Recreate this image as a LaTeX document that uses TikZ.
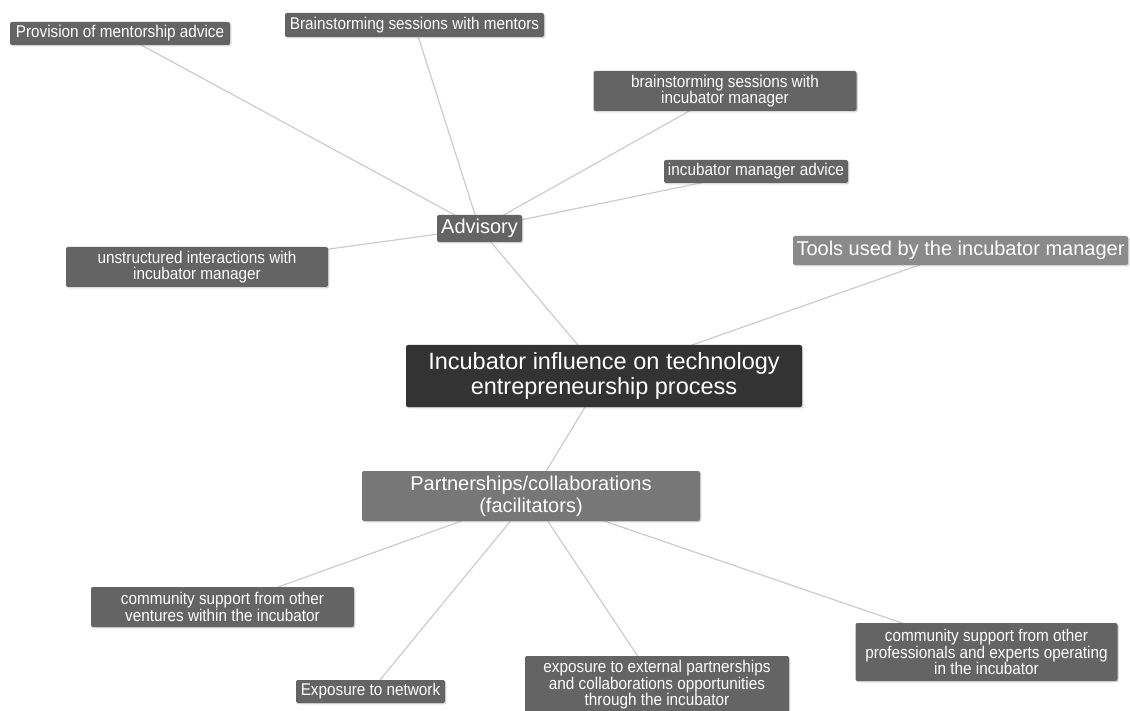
\documentclass[tikz,border=0pt]{standalone}
\usepackage{fontspec}
\setmainfont{Liberation Sans}
\newfontfamily\narrowfont{Liberation Sans}[FakeStretch=0.9]
\usetikzlibrary{shadows,backgrounds}
\definecolor{nodegray}{HTML}{646464}
\definecolor{midgray}{HTML}{777777}
\definecolor{lightgray2}{HTML}{8A8A8A}
\definecolor{darkgray2}{HTML}{333333}
\definecolor{linegray}{HTML}{CCCCCC}
\begin{document}
\begin{tikzpicture}[x=1pt,y=-1pt,
  base/.style={rounded corners=2pt, text=white, align=center, inner sep=0pt,
    drop shadow={shadow xshift=1.3pt, shadow yshift=-1.3pt, opacity=0.3}},
  small/.style={base, fill=nodegray, font=\narrowfont\fontsize{17}{16.5}\selectfont},
  big/.style={base, font=\fontsize{20}{22}\selectfont},
  link/.style={draw=linegray, line width=1.2pt}]
\useasboundingbox (0,0) rectangle (1130,711);
\clip (0,0) rectangle (1130,711);

\node[small, minimum width=220pt, minimum height=23pt] (prov) at (120,33.5) {Provision of mentorship advice};
\node[small, minimum width=259pt, minimum height=24pt] (bmen) at (414.5,25) {Brainstorming sessions with mentors};
\node[small, minimum width=263pt, minimum height=40pt] (bman) at (725,91) {brainstorming sessions with\\incubator manager};
\node[small, minimum width=184pt, minimum height=23pt] (iadv) at (756,171.5) {incubator manager advice};
\node[big, fill=nodegray, minimum width=85pt, minimum height=27pt] (adv) at (479.5,228.5) {Advisory};
\node[small, minimum width=262pt, minimum height=40pt] (unst) at (197,267) {unstructured interactions with\\incubator manager};
\node[big, fill=lightgray2, minimum width=335pt, minimum height=29pt] (tools) at (960.5,250.5) {Tools used by the incubator manager};
\node[base, fill=darkgray2, font=\fontsize{23.5}{25}\selectfont, minimum width=396pt, minimum height=62pt] (central) at (604,376) {Incubator influence on technology\\entrepreneurship process};
\node[big, fill=midgray, minimum width=338pt, minimum height=50pt] (part) at (531,496) {Partnerships/collaborations\\(facilitators)};
\node[small, minimum width=263pt, minimum height=40pt] (cven) at (222.5,607) {community support from other\\ventures within the incubator};
\node[small, minimum width=149pt, minimum height=23pt] (expn) at (370.5,691.5) {Exposure to network};
\node[small, minimum width=264pt, minimum height=58pt] (ext) at (657,685) {exposure to external partnerships\\and collaborations opportunities\\through the incubator};
\node[small, minimum width=262pt, minimum height=58pt] (prof) at (986.5,652) {community support from other\\professionals and experts operating\\in the incubator};

\begin{scope}[on background layer]
\fill[white] (0,0) rectangle (1130,711);
\draw[link] (adv.center) -- (prov.center);
\draw[link] (adv.center) -- (bmen.center);
\draw[link] (adv.center) -- (bman.center);
\draw[link] (adv.center) -- (iadv.center);
\draw[link] (adv.center) -- (unst.center);
\draw[link] (adv.center) -- (central.center);
\draw[link] (tools.center) -- (central.center);
\draw[link] (central.center) -- (part.center);
\draw[link] (part.center) -- (cven.center);
\draw[link] (part.center) -- (expn.center);
\draw[link] (part.center) -- (ext.center);
\draw[link] (part.center) -- (prof.center);
\end{scope}
\end{tikzpicture}
\end{document}
